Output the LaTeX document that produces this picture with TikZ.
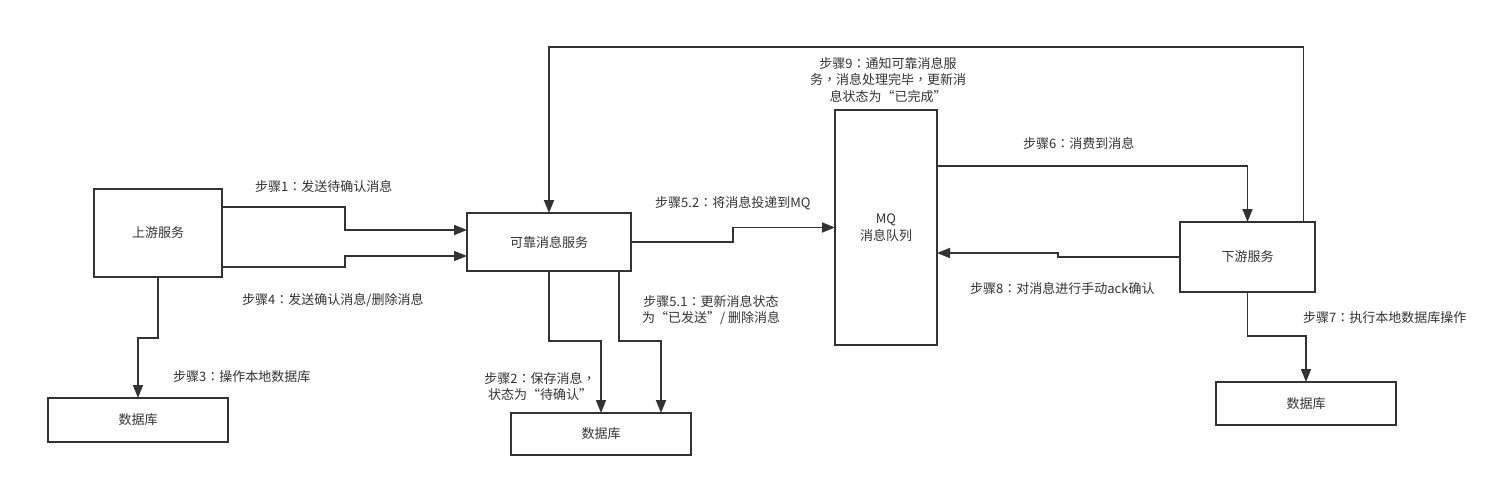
\documentclass[tikz,border=0pt]{standalone}
\usepackage{fontspec}
\setmainfont{Noto Sans CJK SC}
\newfontfamily\tcpunct{Noto Sans CJK TC}
\newcommand{\cln}{{\tcpunct ：}}
\newcommand{\cma}{{\tcpunct ，}}
\usetikzlibrary{arrows.meta}
\definecolor{ink}{HTML}{333333}
\tikzset{
  box/.style={draw=ink, line width=1.8pt, inner sep=0pt, outer sep=0pt, align=center, text=ink},
  conn/.style={draw=ink, line width=1.6pt, -{Triangle[length=13pt,width=10pt]}},
  lbl/.style={text=ink, inner sep=0pt, anchor=west},
  lblc/.style={text=ink, inner sep=0pt, align=center},
}
\begin{document}
\begin{tikzpicture}[x=1pt,y=-1pt,font=\fontsize{13}{16.5}\selectfont]
\useasboundingbox[fill=white] (0,0) rectangle (1507,488);
% boxes
\node[box, minimum width=128pt, minimum height=88pt] (up) at (158,233) {上游服务};
\node[box, minimum width=180pt, minimum height=44pt] (db1) at (138,420) {数据库};
\node[box, minimum width=164pt, minimum height=58pt] (rel) at (549,242) {可靠消息服务};
\node[box, minimum width=180pt, minimum height=42pt] (db2) at (601,434) {数据库};
\node[box, minimum width=102pt, minimum height=235pt] (mq) at (886,227.5) {MQ\\消息队列};
\node[box, minimum width=135pt, minimum height=70pt] (down) at (1247.5,257) {下游服务};
\node[box, minimum width=180pt, minimum height=43pt] (db3) at (1306,403.5) {数据库};
% connectors
\draw[conn] ([yshift=26pt]up.east) -- ++(123,0) |- ([yshift=12pt]rel.west);
\draw[conn] ([yshift=-34pt]up.east) -- ++(123,0) |- ([yshift=-14pt]rel.west);
\draw[conn] (up.south) -- ++(0,61) -| (db1.north);
\draw[conn] (rel.south) -- ++(0,70) -| (db2.north);
\draw[conn] ([xshift=70pt]rel.south) -- ++(0,70) -| ([xshift=60pt]db2.north);
\draw[conn] (rel.east) -- ++(102,0) |- (mq.west);
\draw[conn] ([yshift=61.5pt]mq.east) -| (down.north);
\draw[conn] (down.west) -- ++(-122,0) |- ([yshift=-25.5pt]mq.east);
\draw[conn] ([xshift=56pt]down.north) -- ++(0,-175) -| (rel.north);
\draw[conn] (down.south) -- ++(0,44) -| (db3.north);
% labels
\node[lbl] (t1) at (255,187) {步骤1\cln 发送待确认消息};
\node[lbl] (t4) at (242,300) {步骤4\cln 发送确认消息/删除消息};
\node[lbl] (t3) at (173,377) {步骤3\cln 操作本地数据库};
\node[lblc] (t2) at (540,386.5) {步骤2\cln 保存消息\cma\\状态为“待确认”};
\node[lblc] (t51) at (711,310) {步骤5.1\cln 更新消息状态\\为“已发送”/ 删除消息};
\node[lbl] (t52) at (655,203) {步骤5.2\cln 将消息投递到MQ};
\node[lblc] (t9) at (888,80) {步骤9\cln 通知可靠消息服\\务\cma 消息处理完毕\cma 更新消\\息状态为“已完成”};
\node[lbl] (t6) at (1023,143) {步骤6\cln 消费到消息};
\node[lbl] (t8) at (970,289) {步骤8\cln 对消息进行手动ack确认};
\node[lbl] (t7) at (1303,318) {步骤7\cln 执行本地数据库操作};
\end{tikzpicture}
\end{document}
